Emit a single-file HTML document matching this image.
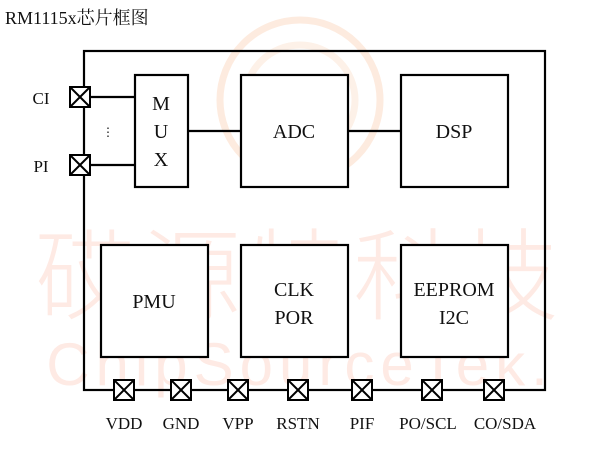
<!DOCTYPE html>
<html><head><meta charset="utf-8"><style>
body{margin:0;background:#fff;width:600px;height:450px;overflow:hidden}
</style></head><body>
<svg width="600" height="450" xmlns="http://www.w3.org/2000/svg" font-family="'Liberation Serif','Noto Serif CJK SC',serif">
<rect width="600" height="450" fill="#fff"/>
<!-- watermark -->
<g fill="none" stroke="#fdebdf" stroke-width="7">
<circle cx="300" cy="100" r="80"/>
<circle cx="300" cy="100" r="55" stroke="#fdf1e8"/>
<path d="M275 95 Q300 70 325 100 Q320 135 290 140" stroke="#fde6d4"/>
</g>
<text x="300" y="312" text-anchor="middle" font-family="'Noto Sans CJK SC',sans-serif" font-size="100" fill="#feeae4" font-weight="300" letter-spacing="6">砹源特科技</text>
<text x="300" y="385" text-anchor="middle" font-family="'Liberation Sans',sans-serif" font-size="60" fill="#feeae4" letter-spacing="6">ChipSourceTek.</text>
<text x="5" y="24" font-size="18" fill="#111" font-family="'Liberation Serif','Noto Serif CJK SC',serif">RM1115x芯片框图</text>
<g stroke="#000" stroke-width="2.2" fill="none">
<rect x="84" y="51" width="461" height="339"/>
<line x1="91" y1="97" x2="135" y2="97"/>
<line x1="91" y1="165" x2="135" y2="165"/>
<line x1="188" y1="131" x2="241" y2="131"/>
<line x1="348" y1="131" x2="401" y2="131"/>
</g>
<g stroke="#000" stroke-width="2.2" fill="#fff">
<rect x="135" y="75" width="53" height="112"/>
<rect x="241" y="75" width="107" height="112"/>
<rect x="401" y="75" width="107" height="112"/>
<rect x="101" y="245" width="107" height="112"/>
<rect x="241" y="245" width="107" height="112"/>
<rect x="401" y="245" width="107" height="112"/>
</g>
<g stroke="#000" stroke-width="2" fill="#fff">
<g transform="translate(80,97)"><rect x="-10" y="-10" width="20" height="20"/><path d="M-10 -10L10 10M10 -10L-10 10"/></g>
<g transform="translate(80,165)"><rect x="-10" y="-10" width="20" height="20"/><path d="M-10 -10L10 10M10 -10L-10 10"/></g>
<g transform="translate(124,390)"><rect x="-10" y="-10" width="20" height="20"/><path d="M-10 -10L10 10M10 -10L-10 10"/></g>
<g transform="translate(181,390)"><rect x="-10" y="-10" width="20" height="20"/><path d="M-10 -10L10 10M10 -10L-10 10"/></g>
<g transform="translate(238,390)"><rect x="-10" y="-10" width="20" height="20"/><path d="M-10 -10L10 10M10 -10L-10 10"/></g>
<g transform="translate(298,390)"><rect x="-10" y="-10" width="20" height="20"/><path d="M-10 -10L10 10M10 -10L-10 10"/></g>
<g transform="translate(362,390)"><rect x="-10" y="-10" width="20" height="20"/><path d="M-10 -10L10 10M10 -10L-10 10"/></g>
<g transform="translate(432,390)"><rect x="-10" y="-10" width="20" height="20"/><path d="M-10 -10L10 10M10 -10L-10 10"/></g>
<g transform="translate(494,390)"><rect x="-10" y="-10" width="20" height="20"/><path d="M-10 -10L10 10M10 -10L-10 10"/></g>
</g>
<g font-size="20" fill="#111" text-anchor="middle">
<text x="161" y="110">M</text><text x="161" y="138">U</text><text x="161" y="166">X</text>
<text x="294" y="138">ADC</text>
<text x="454" y="138">DSP</text>
<text x="154" y="308">PMU</text>
<text x="294" y="296">CLK</text><text x="294" y="324">POR</text>
<text x="454" y="296">EEPROM</text><text x="454" y="324">I2C</text>
</g>
<g font-size="17" fill="#111" text-anchor="middle">
<text x="41" y="104">CI</text><text x="41" y="172">PI</text>
<text x="108" y="136" font-size="12">⋮</text>
<text x="124" y="429">VDD</text><text x="181" y="429">GND</text><text x="238" y="429">VPP</text>
<text x="298" y="429">RSTN</text><text x="362" y="429">PIF</text><text x="428" y="429">PO/SCL</text><text x="505" y="429">CO/SDA</text>
</g>
</svg>
</body></html>
